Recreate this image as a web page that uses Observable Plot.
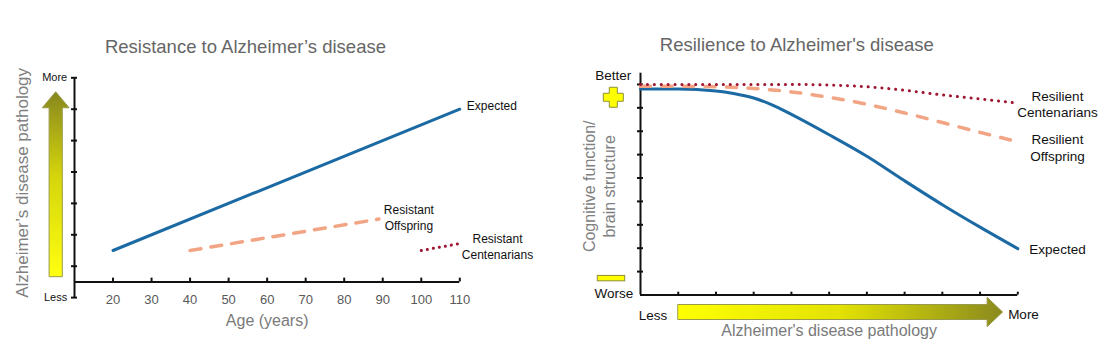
<!DOCTYPE html>
<html><head><meta charset="utf-8">
<script src="https://cdn.jsdelivr.net/npm/d3@7"></script>
<script src="https://cdn.jsdelivr.net/npm/@observablehq/plot@0.6"></script>
<style>
body{margin:0;background:#fff;}
#wrap{display:flex;width:1102px;height:356px;overflow:hidden;}
#wrap svg{display:block;flex:none;}
</style></head><body><div id="wrap"></div>
<script>
// ---------- Left chart: Resistance ----------
const ageTicks = [20, 30, 40, 50, 60, 70, 80, 90, 100, 110];
const pathologyTicks = [0, 1, 2, 3, 4, 5, 6, 7];
const pathologyTickLabels = {0: "Less", 7: "More"};
const resistExpectedAge = [20, 110];
const resistExpectedVal = [1.5, 6.0];
const resistOffspringAge = [40, 89];
const resistOffspringVal = [1.5, 2.5];
const resistCentAge = [100, 110];
const resistCentVal = [1.5, 1.72];

// ---------- Right chart: Resilience ----------
const cognitionTicks = [1, 2, 3, 4, 5, 6, 7, 8, 9];
const pathTicksR = [1, 2, 3, 4, 5, 6, 7, 8, 9, 10];
const expLevels = [0, 1, 2, 2.5, 3, 3.5, 4, 5, 6, 7, 8, 9, 10];
const resilExpected = [8.8, 8.8, 8.72, 8.6, 8.42, 8.12, 7.72, 6.85, 5.93, 4.88, 3.86, 2.9, 1.98];
const offLevels = [0, 1, 2, 3, 4, 5, 6, 7, 8, 9, 10];
const resilOffspring = [8.92, 8.92, 8.9, 8.83, 8.68, 8.45, 8.15, 7.78, 7.37, 6.95, 6.55];
const centLevels = [0, 2, 4, 5, 6, 7, 8, 9, 10];
const resilCent = [9.0, 9.0, 9.0, 8.97, 8.9, 8.75, 8.55, 8.38, 8.2];

const FONT = "'Liberation Sans', Arial, Helvetica, sans-serif";
const BLUE = "#1c6aa4", PEACH = "#f2a584", DARKRED = "#9e1630";
const zip = (xs, ys) => xs.map((x, i) => ({x, y: ys[i]}));

const YMAX_R = 9.48;

const left = Plot.plot({
  width: 551, height: 356,
  marginLeft: 74, marginRight: 91.7, marginTop: 77.3, marginBottom: 58.9,
  x: {domain: [10, 110], axis: null},
  y: {domain: [0, 7]},
  style: {fontFamily: FONT, background: "transparent", overflow: "visible"},
  marks: [
    Plot.text(["Resistance to Alzheimer’s disease"], {frameAnchor: "top", textAnchor: "middle", lineAnchor: "middle", dx: -21.7, dy: -30.3, fontSize: 18.5, fill: "#666", text: d => d}),
    Plot.text(["Alzheimer’s disease pathology"], {frameAnchor: "left", textAnchor: "middle", lineAnchor: "middle", rotate: -90, dx: -52.3, dy: -4.8, fontSize: 17, fill: "#808080", text: d => d}),
    Plot.ruleX([10], {y1: 0, y2: 7, stroke: "#111", strokeWidth: 2}),
    Plot.ruleY([0.5], {x1: 10, x2: 110, stroke: "#111", strokeWidth: 2}),
    Plot.axisY(pathologyTicks, {tickSize: 6, dx: 3, tickPadding: 4.3, tickFormat: d => pathologyTickLabels[d] ?? "", fontSize: 11, fill: "#111", stroke: "#111", strokeWidth: 2, label: null}),
    Plot.ruleX(ageTicks, {x: d => d, y1: 0.5, y2: 0.62, stroke: "#111", strokeWidth: 2}),
    Plot.text(ageTicks, {x: d => d, y: 0, dy: 2, text: d => String(d), fontSize: 13, fill: "#595959"}),
    Plot.text(["Age (years)"], {frameAnchor: "bottom", textAnchor: "middle", lineAnchor: "middle", dy: 23.4, fontSize: 16, fill: "#7a7a7a", text: d => d}),
    Plot.line(zip(resistExpectedAge, resistExpectedVal), {x: "x", y: "y", stroke: BLUE, strokeWidth: 3}),
    Plot.line(zip(resistOffspringAge, resistOffspringVal), {x: "x", y: "y", stroke: PEACH, strokeWidth: 3.5, strokeDasharray: "11,10"}),
    Plot.line(zip(resistCentAge, resistCentVal), {x: "x", y: "y", stroke: DARKRED, strokeWidth: 3, strokeDasharray: "0.1,6", strokeLinecap: "round"}),
    Plot.text([{x: 110, y: 6}], {x: "x", y: "y", text: () => "Expected", textAnchor: "start", dx: 7, dy: -2.6, fontSize: 12, fill: "#111"}),
    Plot.text([{x: 89, y: 2.5}], {x: "x", y: "y", text: () => "Resistant\nOffspring", textAnchor: "middle", lineHeight: 1.33, dx: 30, dy: -2.6, fontSize: 12, fill: "#111"}),
    Plot.text([{x: 110, y: 1.72}], {x: "x", y: "y", text: () => "Resistant\nCentenarians", textAnchor: "middle", lineHeight: 1.33, dx: 37.7, dy: 2, fontSize: 12, fill: "#111"})
  ]
});

const right = Plot.plot({
  width: 551, height: 356,
  marginLeft: 89, marginRight: 84.7, marginTop: 72.7, marginBottom: 61.5,
  x: {domain: [0, 10], axis: null},
  y: {domain: [0, YMAX_R]},
  style: {fontFamily: FONT, background: "transparent", overflow: "visible"},
  marks: [
    Plot.text(["Resilience to Alzheimer's disease"], {frameAnchor: "top", textAnchor: "middle", lineAnchor: "middle", dx: -32.3, dy: -27.9, fontSize: 18.5, fill: "#666", text: d => d}),
    Plot.text(["Cognitive function/\nbrain structure"], {frameAnchor: "left", textAnchor: "middle", lineAnchor: "middle", rotate: -90, lineHeight: 1.25, dx: -41.7, dy: 2.2, fontSize: 16, fill: "#808080", text: d => d}),
    Plot.ruleX([0], {y1: 0, y2: YMAX_R, stroke: "#111", strokeWidth: 2}),
    Plot.ruleY([0], {x1: 0, x2: 10, stroke: "#111", strokeWidth: 2}),
    Plot.axisY(cognitionTicks, {tickSize: 6, dx: 3, tickFormat: () => "", stroke: "#111", strokeWidth: 2, label: null}),
    Plot.ruleX(pathTicksR, {x: d => d, y1: 0, y2: 0.12, stroke: "#111", strokeWidth: 2}),
    Plot.text(["Better"], {x: () => 0, y: () => YMAX_R, text: d => d, textAnchor: "end", dx: -9.3, dy: 2.3, fontSize: 13.5, fill: "#111"}),
    Plot.text(["Worse"], {x: () => 0, y: () => 0, text: d => d, textAnchor: "end", dx: -7.3, dy: -1.8, fontSize: 13.5, fill: "#111"}),
    Plot.text(["Less"], {x: () => 0, y: () => 0, text: d => d, textAnchor: "middle", dx: 12.5, dy: 20.5, fontSize: 13.5, fill: "#111"}),
    Plot.text(["More"], {x: () => 10, y: () => 0, text: d => d, textAnchor: "middle", dx: 5.7, dy: 19.8, fontSize: 13.5, fill: "#111"}),
    Plot.text(["Alzheimer's disease pathology"], {frameAnchor: "bottom", textAnchor: "middle", lineAnchor: "middle", dy: 36, fontSize: 16, fill: "#7a7a7a", text: d => d}),
    Plot.line(zip(expLevels, resilExpected), {x: "x", y: "y", stroke: BLUE, strokeWidth: 3, curve: "monotone-x"}),
    Plot.line(zip(offLevels, resilOffspring), {x: "x", y: "y", stroke: PEACH, strokeWidth: 3.5, strokeDasharray: "10,11.5", curve: "monotone-x"}),
    Plot.line(zip(centLevels, resilCent), {x: "x", y: "y", stroke: DARKRED, strokeWidth: 3, strokeDasharray: "0.1,6.8", strokeLinecap: "round", curve: "monotone-x"}),
    Plot.text([{x: 10, y: 8.2}], {x: "x", y: "y", text: () => "Resilient\nCentenarians", textAnchor: "middle", lineHeight: 1.22, dx: 39.7, dy: 0.5, fontSize: 13.5, fill: "#111"}),
    Plot.text([{x: 10, y: 6.55}], {x: "x", y: "y", text: () => "Resilient\nOffspring", textAnchor: "middle", lineHeight: 1.22, dx: 39.7, dy: 5.4, fontSize: 13.5, fill: "#111"}),
    Plot.text([{x: 10, y: 1.98}], {x: "x", y: "y", text: () => "Expected", textAnchor: "middle", dx: 39.7, dy: 1, fontSize: 13.5, fill: "#111"})
  ]
});

const wrap = document.getElementById("wrap");
wrap.appendChild(left);
wrap.appendChild(right);

// ---------- decorative arrows and symbols (positioned from the scales) ----------
function addGradient(svg, id, horizontal, stops) {
  const g = svg.append("defs").append("linearGradient").attr("id", id)
    .attr("x1", 0).attr("y1", 0).attr("x2", horizontal ? 1 : 0).attr("y2", horizontal ? 0 : 1);
  stops.forEach(([o, c]) => g.append("stop").attr("offset", o).attr("stop-color", c));
}

{
  const svg = d3.select(left);
  const xs = left.scale("x"), ys = left.scale("y");
  addGradient(svg, "gradUp", false, [[0, "#87871e"], [0.45, "#d4d40c"], [1, "#ffff10"]]);
  const cx = xs.apply(10) - 18.3;
  const tip = ys.apply(6.54), base = ys.apply(6.03), bottom = ys.apply(0.65);
  const hs = 6.6, hh = 13.4;
  const p = `M${cx - hs},${bottom}L${cx - hs},${base}L${cx - hh},${base}L${cx},${tip}L${cx + hh},${base}L${cx + hs},${base}L${cx + hs},${bottom}Z`;
  svg.append("path").attr("d", p).attr("fill", "url(#gradUp)").attr("stroke", "#9a9a4c").attr("stroke-width", 1);
}

{
  const svg = d3.select(right);
  const xs = right.scale("x"), ys = right.scale("y");
  addGradient(svg, "gradRight", true, [[0, "#ffff00"], [0.5, "#e2e204"], [1, "#8a8a1e"]]);
  const x0 = xs.apply(1), xb = xs.apply(9.2), xt = xs.apply(9.61);
  const cy = ys.apply(0) + 17.5, hs = 7.5, hh = 14.7;
  const p = `M${x0},${cy - hs}L${xb},${cy - hs}L${xb},${cy - hh}L${xt},${cy}L${xb},${cy + hh}L${xb},${cy + hs}L${x0},${cy + hs}Z`;
  svg.append("path").attr("d", p).attr("fill", "url(#gradRight)").attr("stroke", "#9a9a4c").attr("stroke-width", 1);

  // plus sign (Better) and minus bar (Worse)
  const px = xs.apply(0) - 26.7, py = ys.apply(8.43), a = 10, w = 4;
  const plus = `M${px - w},${py - a}H${px + w}V${py - w}H${px + a}V${py + w}H${px + w}V${py + a}H${px - w}V${py + w}H${px - a}V${py - w}H${px - w}Z`;
  svg.append("path").attr("d", plus).attr("fill", "#ffff00").attr("stroke", "#8e8e36").attr("stroke-width", 1);
  const my = ys.apply(0.7);
  svg.append("rect").attr("x", xs.apply(0) - 42.7).attr("y", my - 2.7).attr("width", 27.4).attr("height", 5.4)
    .attr("fill", "#ffff00").attr("stroke", "#8e8e36").attr("stroke-width", 1);
}
</script></body></html>
